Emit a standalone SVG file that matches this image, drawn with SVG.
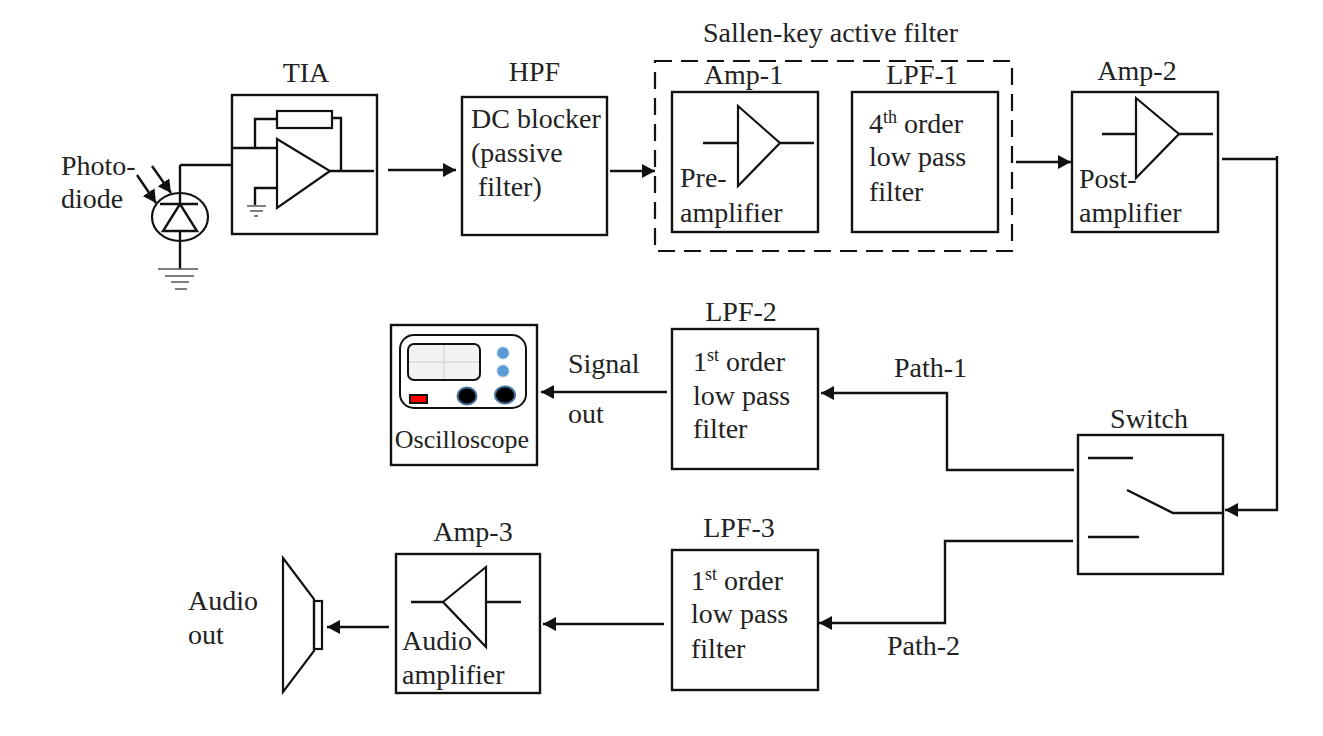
<svg xmlns="http://www.w3.org/2000/svg" width="1323" height="736" viewBox="0 0 1323 736">
<style>
text{font-family:"Liberation Serif","Times New Roman",serif;font-size:28px;fill:#222}
.b{fill:#fff;stroke:#111;stroke-width:2.4}
.l{fill:none;stroke:#111;stroke-width:2.4}
.t{fill:none;stroke:#111;stroke-width:2.2}
.g{fill:none;stroke:#555;stroke-width:1.6}
.a{marker-end:url(#ar)}
.sup{font-size:18px}
</style>
<defs><marker id="ar" markerUnits="userSpaceOnUse" markerWidth="14" markerHeight="14" refX="13" refY="7" orient="auto"><path d="M0 0L13 7L0 14Z" fill="#111"/></marker></defs>
<rect width="1323" height="736" fill="#fff"/>
<g id="photodiode">
<text x="61" y="175">Photo-</text><text x="61" y="208">diode</text>
<ellipse cx="180" cy="217" rx="28" ry="24" class="t"/>
<path class="l" d="M160 204H198M180 204L163 231H197ZM180 231V269M180 165V204"/>
<path class="g" d="M158 269H198M165 276H194M171 282H189M175 289H187"/>
<path class="l a" d="M137 175L156 203"/><path class="l a" d="M152 166L171 193"/>
</g>
<g id="tia">
<text x="306" y="82" text-anchor="middle">TIA</text>
<rect class="b" x="232" y="95" width="145" height="139"/>
<path class="t" d="M277 139L330 171L277 208Z"/>
<rect class="t" x="277" y="111" width="55" height="17"/>
<path class="l" d="M232 148H277M255 148V119H277M332 118H341V171M330 171H374M277 188H255V205"/>
<path class="g" d="M247 206H266M250 211H263M254 216H258"/>
</g>
<g id="hpf">
<text x="534.500" y="81" text-anchor="middle">HPF</text>
<rect class="b" x="462" y="97" width="145" height="138"/>
<text x="471" y="128">DC blocker</text><text x="471" y="162">(passive</text><text x="478" y="196">filter)</text>
</g>
<g id="sallen-key">
<text x="830.500" y="42" text-anchor="middle">Sallen-key active filter</text>
<rect x="655" y="61" width="357" height="190" fill="none" stroke="#111" stroke-width="2.2" stroke-dasharray="17 9"/>
</g>
<g id="amp-1">
<text x="743.500" y="84" text-anchor="middle">Amp-1</text>
<rect class="b" x="672" y="92" width="146" height="140"/>
<path class="t" d="M738 106L780 143L738 186Z"/>
<path class="l" d="M703 143H738M780 143H814"/>
<text x="680" y="187">Pre-</text><text x="680" y="222">amplifier</text>
</g>
<g id="lpf-1">
<text x="922" y="84" text-anchor="middle">LPF-1</text>
<rect class="b" x="852" y="92" width="146" height="140"/>
<text x="869" y="133">4<tspan class="sup" dy="-10">th</tspan><tspan dy="10"> order</tspan></text><text x="869" y="166">low pass</text><text x="869" y="201">filter</text>
</g>
<g id="amp-2">
<text x="1137" y="80" text-anchor="middle">Amp-2</text>
<rect class="b" x="1072" y="92" width="146" height="140"/>
<text x="1079" y="188">Post-</text><text x="1079" y="222">amplifier</text>
<path class="t" d="M1136 98L1179 134L1136 178Z"/>
<path class="l" d="M1102 134H1136M1179 134H1213"/>
</g>
<g id="switch">
<text x="1149" y="428" text-anchor="middle">Switch</text>
<rect class="b" x="1078" y="435" width="145" height="139"/>
<path class="l" d="M1088 458H1133M1088 537H1139M1127 490L1173 513H1223"/>
</g>
<g id="lpf-2">
<text x="741" y="321" text-anchor="middle">LPF-2</text>
<rect class="b" x="672" y="329" width="146" height="140"/>
<text x="693" y="371">1<tspan class="sup" dy="-10">st</tspan><tspan dy="10"> order</tspan></text><text x="693" y="405">low pass</text><text x="693" y="438">filter</text>
</g>
<g id="lpf-3">
<text x="739" y="537" text-anchor="middle">LPF-3</text>
<rect class="b" x="672" y="550" width="146" height="140"/>
<text x="691" y="590">1<tspan class="sup" dy="-10">st</tspan><tspan dy="10"> order</tspan></text><text x="691" y="623">low pass</text><text x="691" y="658">filter</text>
</g>
<g id="oscilloscope">
<rect class="b" x="391" y="325" width="146" height="140"/>
<rect x="400" y="335" width="126" height="73" rx="14" fill="#fff" stroke="#111" stroke-width="2"/>
<rect x="408" y="344" width="72" height="36" rx="6" fill="#f2f2f2" stroke="#111" stroke-width="2"/>
<path d="M444 345V379M409 362H479" stroke="#d9d9d9" stroke-width="1.500"/>
<circle cx="503" cy="353" r="6" fill="#5b9bd5" stroke="#a9c8e6"/><circle cx="503" cy="371" r="6" fill="#5b9bd5" stroke="#a9c8e6"/>
<ellipse cx="467" cy="396" rx="9.500" ry="8.500" fill="#000" stroke="#41719c" stroke-width="2"/><ellipse cx="505" cy="395" rx="10" ry="8.500" fill="#000" stroke="#41719c" stroke-width="2"/>
<rect x="410" y="395" width="17" height="8" fill="#f00" stroke="#111" stroke-width="2"/>
<text x="462" y="448" text-anchor="middle" style="font-size:26px">Oscilloscope</text>
</g>
<g id="amp-3">
<text x="473" y="541" text-anchor="middle">Amp-3</text>
<rect class="b" x="396" y="554" width="144" height="139"/>
<text x="402" y="650">Audio</text><text x="402" y="684">amplifier</text>
<path class="t" d="M486 567L443 602L486 647Z"/>
<path class="l" d="M411 602H443M486 602H521"/>
</g>
<g id="speaker">
<text x="188" y="610">Audio</text><text x="188" y="644">out</text>
<path class="t" d="M283 558L314 599V651L283 692Z"/>
<rect class="t" x="314" y="601" width="8" height="48"/>
</g>
<g id="labels">
<text x="568" y="373">Signal</text><text x="568" y="423">out</text>
<text x="894" y="377">Path-1</text><text x="887" y="655">Path-2</text>
</g>
<g id="connectors">
<path class="l" d="M180 165H232"/>
<path class="l a" d="M388 170H456"/>
<path class="l a" d="M610 171H655"/>
<path class="l a" d="M1016 162H1071"/>
<path class="l" d="M1222 159H1277"/>
<path class="l a" d="M1277 156V510H1225"/>
<path class="l a" d="M1074 470H947V393H821"/>
<path class="l a" d="M1073 541H945V623H819"/>
<path class="l a" d="M667 392H541"/>
<path class="l a" d="M664 624H543"/>
<path class="l a" d="M389 627H327"/>
</g>
</svg>
